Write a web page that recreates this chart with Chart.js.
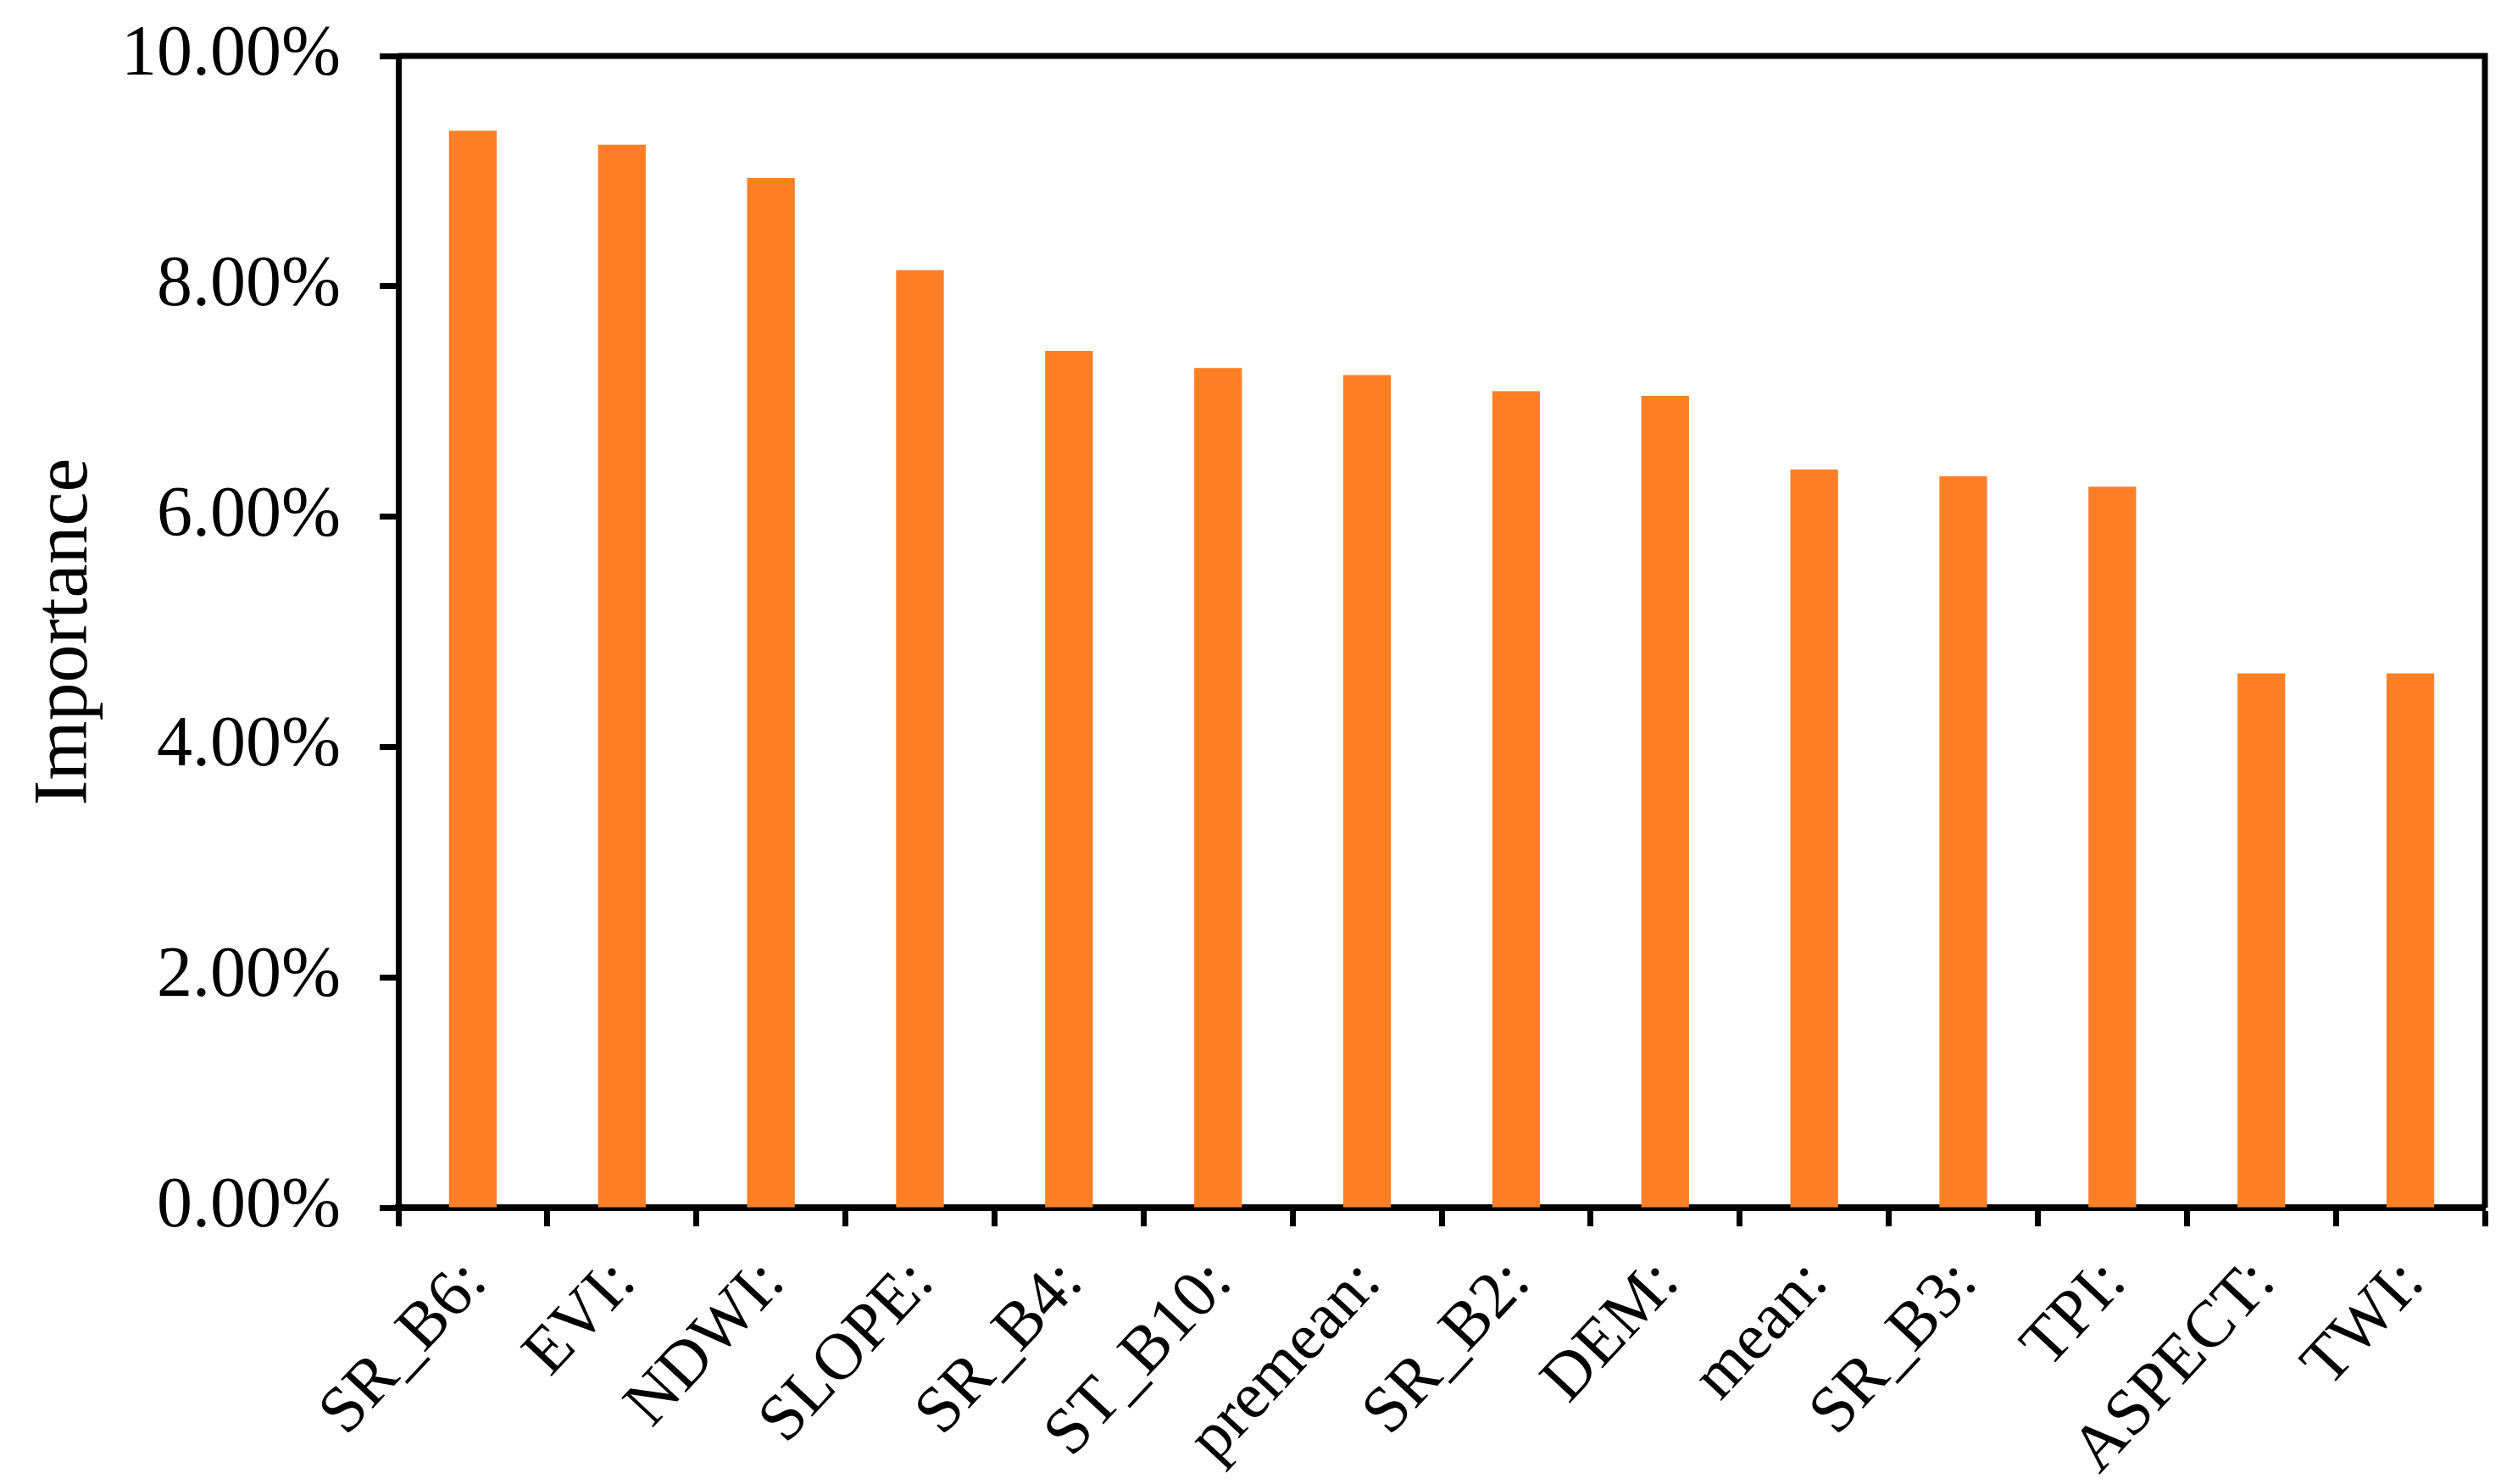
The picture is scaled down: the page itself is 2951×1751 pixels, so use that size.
<!DOCTYPE html>
<html>
<head>
<meta charset="utf-8">
<script src="https://cdn.jsdelivr.net/npm/chart.js@4"></script>
<style>
  html, body { margin: 0; padding: 0; background: #fff; }
  #wrap { width: 2951px; height: 1751px; }
</style>
</head>
<body>
<div id="wrap"><canvas id="importanceChart" width="2951" height="1751"></canvas></div>
<script>
// feature names and their importance (%)
const features = ['SR_B6:', 'EVI:', 'NDWI:', 'SLOPE:', 'SR_B4:', 'ST_B10:', 'premean:',
                  'SR_B2:', 'DEM:', 'mean:', 'SR_B3:', 'TPI:', 'ASPECT:', 'TWI:'];
const importance = [9.35, 9.23, 8.94, 8.14, 7.44, 7.29, 7.23, 7.09, 7.05, 6.41, 6.35, 6.26, 4.64, 4.64];
const yTicks = [0, 2, 4, 6, 8, 10];

const serif = '"Liberation Serif", "Times New Roman", serif';

// draws the top and right edges of the frame
const frameBox = {
    id: 'frameBox',
    afterDraw(chart) {
        const { ctx, chartArea } = chart;
        ctx.save();
        ctx.strokeStyle = '#000';
        ctx.lineWidth = 7;
        ctx.beginPath();
        ctx.moveTo(chartArea.left, chartArea.top);
        ctx.lineTo(chartArea.right, chartArea.top);
        ctx.lineTo(chartArea.right, chartArea.bottom);
        ctx.stroke();
        ctx.restore();
    }
};

const ctx = document.getElementById('importanceChart').getContext('2d');
new Chart(ctx, {
    type: 'bar',
    data: {
        labels: features,
        datasets: [{
            label: 'Importance',
            data: importance,
            backgroundColor: '#FF7F27',
            borderWidth: 0,
            categoryPercentage: 1,
            barPercentage: 0.32
        }]
    },
    options: {
        responsive: false,
        animation: false,
        layout: { padding: { top: 66, right: 19, left: 0, bottom: 0 } },
        plugins: {
            legend: { display: false },
            tooltip: { enabled: false }
        },
        scales: {
            x: {
                afterFit(scale) {
                    scale.height = 1751 - 1425;
                    scale.paddingLeft = 0;
                    scale.paddingRight = 0;
                },
                grid: {
                    offset: true,
                    drawOnChartArea: false,
                    drawTicks: true,
                    tickLength: 22,
                    tickWidth: 7,
                    tickColor: '#000'
                },
                border: { display: true, color: '#000', width: 8 },
                ticks: {
                    color: '#000',
                    font: { family: serif, size: 78 },
                    minRotation: 47,
                    maxRotation: 47,
                    autoSkip: false,
                    padding: 22,
                    labelOffset: 4
                }
            },
            y: {
                min: 0,
                max: 10,
                afterFit(scale) {
                    scale.width = 470;
                    scale.paddingTop = 0;
                    scale.paddingBottom = 0;
                },
                afterBuildTicks(scale) { scale.ticks = yTicks.map(v => ({ value: v })); },
                grid: {
                    drawOnChartArea: false,
                    drawTicks: true,
                    tickLength: 22,
                    tickWidth: 7,
                    tickColor: '#000'
                },
                border: { display: true, color: '#000', width: 7 },
                ticks: {
                    color: '#000',
                    font: { family: serif, size: 84 },
                    padding: 46,
                    callback: v => v.toFixed(2) + '%'
                },
                title: {
                    display: true,
                    text: 'Importance',
                    color: '#000',
                    font: { family: serif, size: 90 },
                    padding: { top: 24, bottom: 0 }
                }
            }
        }
    },
    plugins: [frameBox]
});
</script>
</body>
</html>
